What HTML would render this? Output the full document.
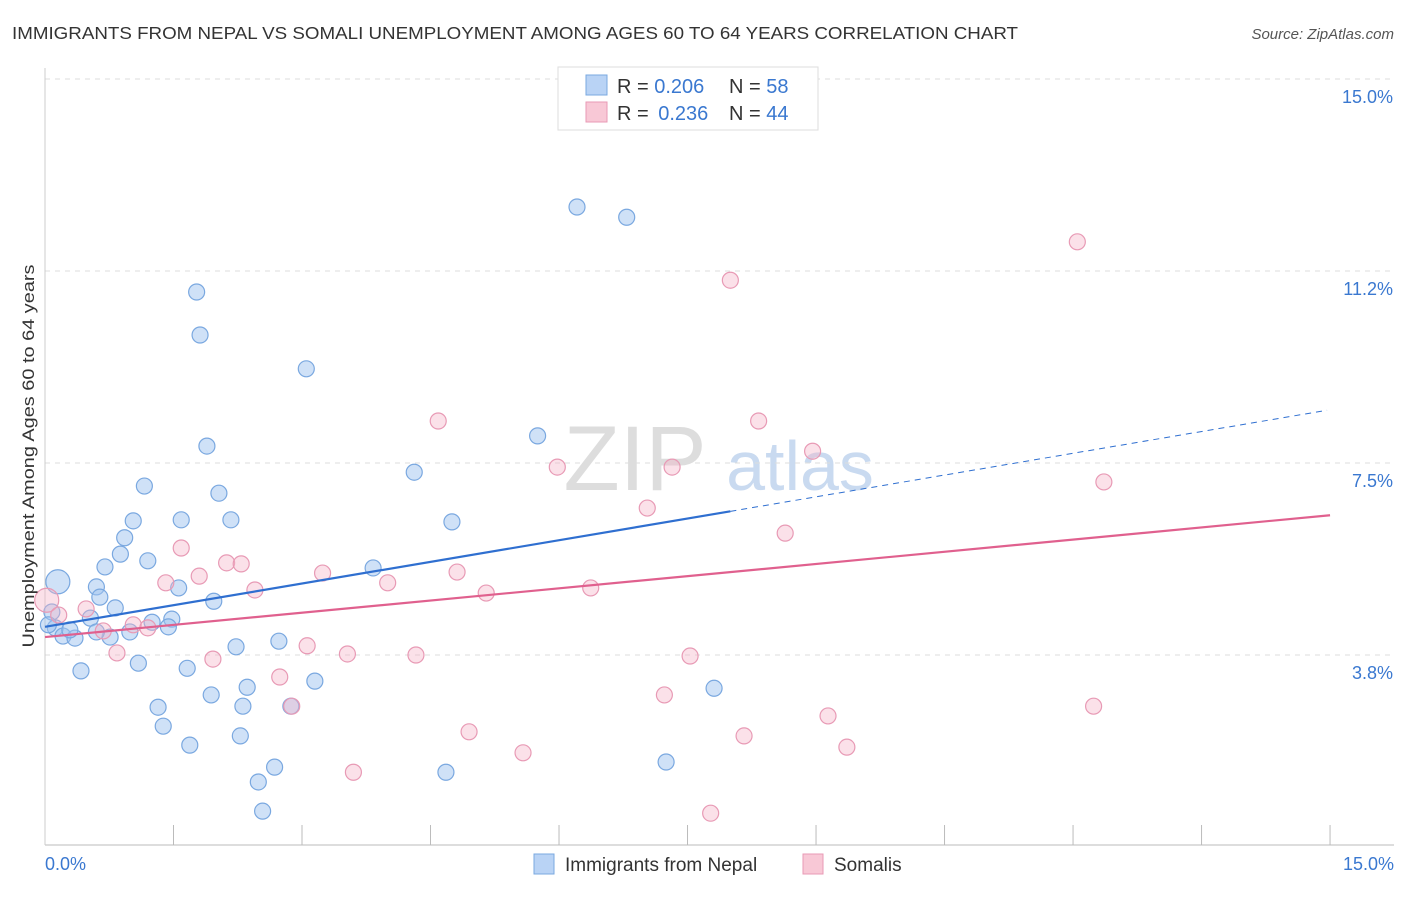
<!DOCTYPE html>
<html><head><meta charset="utf-8"><style>
body{margin:0;background:#fff;font-family:"Liberation Sans",sans-serif;}
svg text{font-family:"Liberation Sans",sans-serif;}
</style></head><body>
<svg id="chart" width="1406" height="892" viewBox="0 0 1406 892">
<text x="12" y="39" font-size="17.5" fill="#333" textLength="1006" lengthAdjust="spacingAndGlyphs">IMMIGRANTS FROM NEPAL VS SOMALI UNEMPLOYMENT AMONG AGES 60 TO 64 YEARS CORRELATION CHART</text>
<text x="1394" y="39" font-size="15" fill="#555" font-style="italic" text-anchor="end">Source: ZipAtlas.com</text>
<text x="635" y="490" font-size="92" fill="#ddd" font-family="Liberation Serif" text-anchor="middle">ZIP</text>
<text x="800" y="490" font-size="70" fill="#c9daf0" text-anchor="middle">atlas</text>
<g id="grid"></g>
<g id="marks"></g>
<text transform="translate(34,456) rotate(-90)" font-size="17" fill="#333" text-anchor="middle" textLength="383" lengthAdjust="spacingAndGlyphs">Unemployment Among Ages 60 to 64 years</text>
<g>
<rect x="558" y="67" width="260" height="63" fill="#fff" stroke="#ddd"/>
<rect x="586" y="75" width="21" height="20" fill="#b9d3f5" stroke="#7aa8e0"/>
<rect x="586" y="102" width="21" height="20" fill="#f8c8d6" stroke="#e89ab5"/>
<text x="617" y="93" font-size="20" fill="#333">R = <tspan fill="#3a78d0">0.206</tspan></text>
<text x="729" y="93" font-size="20" fill="#333">N = <tspan fill="#3a78d0">58</tspan></text>
<text x="617" y="120" font-size="20" fill="#333">R = <tspan fill="#3a78d0" dx="4">0.236</tspan></text>
<text x="729" y="120" font-size="20" fill="#333">N = <tspan fill="#3a78d0">44</tspan></text>
</g>
<g>
<rect x="534" y="854" width="20" height="20" fill="#b9d3f5" stroke="#7aa8e0"/>
<text x="565" y="871" font-size="19" fill="#333">Immigrants from Nepal</text>
<rect x="803" y="854" width="20" height="20" fill="#f8c8d6" stroke="#e89ab5"/>
<text x="834" y="871" font-size="19" fill="#333">Somalis</text>
</g>
</svg>
<script>
const yTicks=[3.75,7.5,11.25,15];
const yTickLabels=["3.8%","7.5%","11.2%","15.0%"];
const nepalX=[6.21,6.79,1.77,1.81,3.05,1.89,5.75,4.31,1.16,2.03,1.03,1.59,2.17,4.75,0.93,0.88,1.20,0.70,3.83,0.60,1.56,0.64,1.97,0.82,0.53,1.25,1.48,1.44,0.15,0.08,0.12,0.21,0.35,0.76,0.99,2.73,2.23,1.09,1.66,0.42,2.36,3.15,1.94,7.81,1.32,2.31,2.87,1.38,2.28,1.69,2.68,4.68,7.25,2.49,2.54,0.60,0.29,0.04];
const nepalY=[12.5,12.3,10.84,10.0,9.34,7.83,8.03,7.32,7.05,6.91,6.37,6.39,6.39,6.35,6.04,5.72,5.59,5.47,5.45,5.08,5.06,4.88,4.80,4.67,4.47,4.39,4.45,4.30,5.18,4.59,4.28,4.12,4.08,4.10,4.20,4.02,3.91,3.59,3.49,3.44,3.12,3.24,2.97,3.10,2.73,2.75,2.75,2.36,2.17,1.99,1.56,1.46,1.66,1.27,0.70,4.20,4.24,4.34];
const nepalBig=[28];
const somaliX=[12.05,8.00,4.59,8.33,5.98,7.32,8.96,12.36,7.03,8.64,1.59,2.12,2.29,1.41,1.80,3.24,4.81,4.00,2.45,6.37,5.15,0.48,0.02,1.03,1.20,0.68,0.84,1.96,3.06,3.53,4.33,7.53,2.74,7.23,2.88,12.24,9.14,4.95,8.16,5.58,9.36,3.60,7.77,0.16];
const somaliY=[11.82,11.07,8.32,8.32,7.42,7.42,7.73,7.13,6.62,6.13,5.84,5.55,5.53,5.16,5.29,5.35,5.37,5.16,5.02,5.06,4.96,4.65,4.82,4.34,4.28,4.22,3.79,3.67,3.93,3.77,3.75,3.73,3.32,2.97,2.75,2.75,2.56,2.25,2.17,1.84,1.95,1.46,0.66,4.53];
const somaliBig=[22];
const nepalTrend=[4.30,8.53];
const somaliTrend=[4.10,6.48];
const NS="http://www.w3.org/2000/svg";
const X=v=>45+v*85.67, Y=v=>847-v*51.2;
function mk(t,a,p){const e=document.createElementNS(NS,t);for(const k in a)e.setAttribute(k,a[k]);p.appendChild(e);return e;}
const grid=document.getElementById('grid'),marks=document.getElementById('marks');
yTicks.forEach((t,i)=>{
 const l=mk('line',{x1:45,x2:1394,y1:Y(t),y2:Y(t),stroke:'#ddd','stroke-dasharray':'5,5'},grid);
 
 
 const tx=mk('text',{x:1393,y:Y(t)+24,'font-size':18,fill:'#3a78d0','text-anchor':'end'},grid);
 tx.textContent=yTickLabels[i];
 
 
});
const ax=mk('line',{x1:45,x2:1394,y1:845,y2:845,stroke:'#bbb'},grid);


const ay=mk('line',{x1:45,x2:45,y1:68,y2:845,stroke:'#ccc'},grid);


for(let i=1;i<=10;i++){const t=mk('line',{x1:X(i*1.5),x2:X(i*1.5),y1:825,y2:845,stroke:'#bbb'},grid);
 
 }
[["0.0%",45,'start'],["15.0%",1394,'end']].forEach(d=>{const t=mk('text',{x:d[1],y:870,'font-size':18,fill:'#3a78d0','text-anchor':d[2]},grid);t.textContent=d[0];
 
 });
function pts(xs,ys,big,fill,stroke,name){xs.forEach((x,i)=>{const c=mk('circle',{cx:X(x),cy:Y(ys[i]),r:big.includes(i)?12:8,fill:fill,stroke:stroke,'stroke-width':1.2},marks);
 
 });}
pts(nepalX,nepalY,nepalBig,'rgba(160,196,240,0.5)','#7aa8e0','nepal-point');
pts(somaliX,somaliY,somaliBig,'rgba(245,180,200,0.4)','#e89ab5','somali-point');
const nyAt=v=>nepalTrend[0]+(nepalTrend[1]-nepalTrend[0])*v/15;
const b1=mk('line',{x1:X(0),y1:Y(nyAt(0)),x2:X(8),y2:Y(nyAt(8)),stroke:'#2f6fd0','stroke-width':2.2},marks);


const b2=mk('line',{x1:X(8),y1:Y(nyAt(8)),x2:X(15)-3,y2:Y(nyAt(15)),stroke:'#2f6fd0','stroke-width':1,'stroke-dasharray':'6,5'},marks);


const p1=mk('line',{x1:X(0),y1:Y(somaliTrend[0]),x2:X(15),y2:Y(somaliTrend[1]),stroke:'#e0608e','stroke-width':2.2},marks);


</script>
</body></html>
